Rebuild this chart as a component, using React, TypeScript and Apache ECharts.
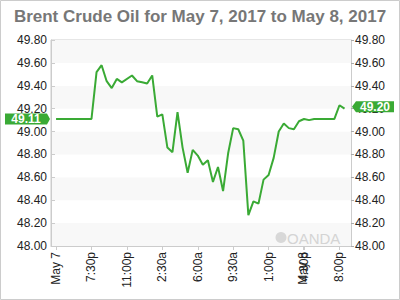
import React, { useEffect, useRef } from 'react';
import * as echarts from 'echarts';

const titleText = 'Brent Crude Oil for May 7, 2017 to May 8, 2017';

// hours since 3:30p May 7
const hours = [0.5, 4, 4.5, 5, 5.5, 6, 6.5, 7, 8, 8.5, 9, 9.5, 10, 10.5, 11, 11.5, 12, 12.5, 13, 13.5, 14, 14.5, 15, 15.5, 16, 16.5, 17, 17.5, 18, 18.5, 19, 19.5, 20, 20.5, 21, 21.5, 22, 22.5, 23, 23.5, 24, 24.5, 25, 25.5, 26, 28, 28.5, 29];
const prices = [49.11, 49.11, 49.52, 49.58, 49.44, 49.38, 49.46, 49.43, 49.49, 49.44, 49.43, 49.42, 49.49, 49.13, 49.15, 48.86, 48.82, 49.17, 48.86, 48.64, 48.84, 48.79, 48.71, 48.75, 48.56, 48.69, 48.48, 48.81, 49.03, 49.02, 48.92, 48.27, 48.39, 48.37, 48.58, 48.62, 48.77, 49.0, 49.07, 49.03, 49.02, 49.09, 49.11, 49.1, 49.11, 49.11, 49.23, 49.2];

const tickHours = [0.5, 4, 7.5, 11, 14.5, 18, 21.5, 24.9, 25, 28.5];
const tickLabels = ['May 7', '7:30p', '11:00p', '2:30a', '6:00a', '9:30a', '1:00p', 'May 8', '4:30p', '8:00p'];

const xMin = 0;
const xMax = 29.64;
const yMin = 48.0;
const yMax = 49.8;
const yStep = 0.2;
const openPrice = 49.11;
const lastPrice = 49.2;

export default function App() {
  const ref = useRef<HTMLDivElement>(null);
  useEffect(() => {
    const chart = echarts.init(ref.current!, null, { renderer: 'svg' });
    const green = '#3aaa35';
    const font = '"Liberation Sans", Arial, sans-serif';
    const labelColor = '#222';
    const data = hours.map((h, i) => [h, prices[i]]);
    const yAxisBase = {
      type: 'value',
      min: yMin,
      max: yMax,
      interval: yStep,
      axisLine: { show: true, lineStyle: { color: '#ccc' } },
      axisLabel: {
        fontFamily: font,
        fontSize: 12,
        color: labelColor,
        formatter: (v: number) => v.toFixed(2),
      },
      splitLine: { show: false },
    };
    chart.setOption({
      animation: false,
      backgroundColor: '#fff',
      title: {
        text: titleText,
        left: 'center',
        top: 3,
        textStyle: { fontFamily: font, fontSize: 17, fontWeight: 'bold', color: '#777' },
      },
      grid: { left: 51, right: 49, top: 40, bottom: 54, show: true, borderColor: '#ccc', borderWidth: 1, backgroundColor: 'transparent' },
      xAxis: {
        type: 'value',
        min: xMin,
        max: xMax,
        axisLine: { show: true, lineStyle: { color: '#ccc' } },
        axisTick: { show: true, length: 4, lineStyle: { color: '#ccc' }, customValues: tickHours },
        axisLabel: {
          customValues: tickHours,
          rotate: 90,
          margin: 6,
          fontFamily: font,
          fontSize: 12,
          color: labelColor,
          formatter: (v: number) => {
            let best = 0;
            for (let i = 0; i < tickHours.length; i++) {
              if (Math.abs(tickHours[i] - v) < Math.abs(tickHours[best] - v)) best = i;
            }
            return tickLabels[best];
          },
        },
        splitLine: { show: false },
      },
      yAxis: [
        {
          ...yAxisBase,
          position: 'left',
          axisTick: { show: true, inside: true, length: 4, lineStyle: { color: '#ccc' } },
          axisLabel: { ...yAxisBase.axisLabel, margin: 4 },
          splitArea: { show: true, areaStyle: { color: ['#f8f8f8', '#ffffff'] } },
        },
        {
          ...yAxisBase,
          position: 'right',
          axisTick: { show: true, inside: false, length: 3, lineStyle: { color: '#aaa' } },
          axisLabel: { ...yAxisBase.axisLabel, margin: 4 },
        },
      ],
      series: [
        {
          type: 'line',
          data,
          xAxisIndex: 0,
          yAxisIndex: 0,
          showSymbol: false,
          symbol: 'none',
          lineStyle: { color: green, width: 2 },
          z: 3,
        },
      ],
    });
    const [lx, ly] = chart.convertToPixel({ xAxisIndex: 0, yAxisIndex: 0 }, [xMin, openPrice]);
    const [rx, ry0] = chart.convertToPixel({ xAxisIndex: 0, yAxisIndex: 0 }, [xMax, lastPrice]);
    const ry = ry0 - 2;
    const h = 5.5;
    chart.setOption({
      graphic: [
        {
          type: 'rect',
          shape: { x: 0.5, y: 0.5, width: 399, height: 299 },
          style: { fill: 'none', stroke: '#ccc', lineWidth: 1 },
          silent: true,
        },
        {
          type: 'polygon',
          shape: { points: [[lx - 46, ly - h], [lx - 4, ly - h], [lx - 1, ly], [lx - 4, ly + h], [lx - 46, ly + h]] },
          style: { fill: green },
          z: 10,
        },
        {
          type: 'text',
          x: lx - 25,
          y: ly,
          style: { text: openPrice.toFixed(2), fill: '#fff', font: `bold 12px ${font}`, align: 'center', verticalAlign: 'middle' },
          z: 11,
        },
        {
          type: 'polygon',
          shape: { points: [[rx + 1, ry], [rx + 5, ry - h], [rx + 43, ry - h], [rx + 43, ry + h], [rx + 5, ry + h]] },
          style: { fill: green },
          z: 10,
        },
        {
          type: 'text',
          x: rx + 24,
          y: ry,
          style: { text: lastPrice.toFixed(2), fill: '#fff', font: `bold 12px ${font}`, align: 'center', verticalAlign: 'middle' },
          z: 11,
        },
        {
          type: 'circle',
          shape: { cx: 281, cy: 237.5, r: 5.5 },
          style: { fill: '#d8d8d8' },
          z: 1,
        },
        {
          type: 'text',
          x: 287,
          y: 238,
          style: { text: 'OANDA', fill: '#d4d4d4', font: `15px ${font}`, verticalAlign: 'middle' },
          z: 1,
        },
      ],
    });
    return () => chart.dispose();
  }, []);
  return <div ref={ref} style={{ position: 'fixed', left: 0, top: 0, width: 400, height: 300 }} />;
}
